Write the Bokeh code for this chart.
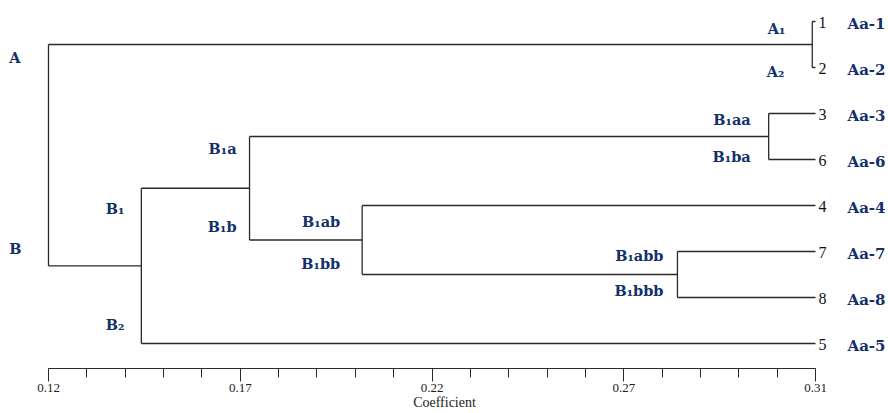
import numpy as np
from bokeh.plotting import figure
from bokeh.models import Range1d, FixedTicker, CustomJSTickFormatter, ColumnDataSource
from bokeh.core.properties import value
from bokeh.embed import file_html
from bokeh.resources import INLINE

# ---------------- data ----------------
LEAF_IDS = ["1", "2", "3", "6", "4", "7", "8", "5"]
LEAF_NAMES = ["Aa-1", "Aa-2", "Aa-3", "Aa-6", "Aa-4", "Aa-7", "Aa-8", "Aa-5"]
LEAF_HEIGHT = 0.31

MERGE_NAME = ["A", "B1a", "n78", "B1b", "B1", "B", "root"]
MERGE_LEFT = ["1", "3", "7", "4", "B1a", "B1", "A"]
MERGE_RIGHT = ["2", "6", "8", "n78", "B1b", "5", "B"]
MERGE_HEIGHT = [0.3092, 0.2984, 0.2758, 0.1977, 0.1698, 0.1430, 0.12]
LABEL_UPPER = ["A\u2081", "B\u2081aa", "B\u2081abb", "B\u2081ab", "B\u2081a", "B\u2081", "A"]
LABEL_LOWER = ["A\u2082", "B\u2081ba", "B\u2081bbb", "B\u2081bb", "B\u2081b", "B\u2082", "B"]

TICK_LABELS = ["0.12", "0.17", "0.22", "0.27", "0.31"]
AXIS_MIN, AXIS_MAX = 0.12, 0.31
AXIS_TITLE = "Coefficient"

# ---------------- styles / layout ----------------
NAVY = "#13306b"
LINE = "#2a2a2a"
SERIF = "'Liberation Serif', 'Times New Roman', serif"
W, H = 888, 413
PX_LEFT, PX_RIGHT = 48, 815          # pixel positions of 0.12 and 0.31
FRAME_H = 368
LEAF_TOP_PX, LEAF_STEP_PX = 21, 46.0
UP_OFF = [(-27, 7), (-18, 6), (-14, 4), (-22, 16), (-13, 12), (-17, 20), (-28, 13)]
LO_OFF = [(-28, 4), (-18, -3), (-14, -7), (-22, -11), (-13, -14), (-17, -19), (-27, -17)]

# ---------------- tree geometry ----------------
pos_x = {}
pos_y = {}
for i, lid in enumerate(LEAF_IDS):
    pos_x[lid] = LEAF_HEIGHT
    pos_y[lid] = i + 1
for name, l, r, h in zip(MERGE_NAME, MERGE_LEFT, MERGE_RIGHT, MERGE_HEIGHT):
    pos_x[name] = h
    pos_y[name] = (pos_y[l] + pos_y[r]) / 2

x0s, y0s, x1s, y1s = [], [], [], []
for name, l, r, h in zip(MERGE_NAME, MERGE_LEFT, MERGE_RIGHT, MERGE_HEIGHT):
    x0s.append(h); y0s.append(pos_y[l]); x1s.append(h); y1s.append(pos_y[r])
    for c in (l, r):
        x0s.append(h); y0s.append(pos_y[c]); x1s.append(pos_x[c]); y1s.append(pos_y[c])

scale = (PX_RIGHT - PX_LEFT) / (AXIS_MAX - AXIS_MIN)
x_start = AXIS_MIN - PX_LEFT / scale
x_end = AXIS_MAX + (W - PX_RIGHT) / scale
y_bottom = 1 + (FRAME_H - LEAF_TOP_PX) / LEAF_STEP_PX
y_top = 1 - LEAF_TOP_PX / LEAF_STEP_PX

p = figure(width=W, height=H, output_backend="svg", toolbar_location=None,
           x_range=Range1d(x_start, x_end), y_range=Range1d(y_bottom, y_top),
           min_border_left=0, min_border_right=0, min_border_top=0,
           min_border_bottom=H - FRAME_H, outline_line_color=None,
           y_axis_location=None)
p.grid.visible = False
p.background_fill_color = "white"
p.border_fill_color = "white"

p.segment(x0=x0s, y0=y0s, x1=x1s, y1=y1s, line_color=LINE, line_width=1.3)

# leaf labels
leaf_src = ColumnDataSource(dict(x=[LEAF_HEIGHT] * len(LEAF_IDS),
                                 y=[pos_y[l] for l in LEAF_IDS],
                                 num=LEAF_IDS, name=LEAF_NAMES))
p.text(x="x", y="y", text="num", source=leaf_src, x_offset=3, y_offset=1,
       text_font=value(SERIF), text_font_size="16px",
       text_color="#111111", text_baseline="middle", text_align="left")
p.text(x="x", y="y", text="name", source=leaf_src, x_offset=32, y_offset=2,
       text_font=value("DejaVu Serif"), text_font_style="bold", text_font_size="15px",
       text_color=NAVY, text_baseline="middle", text_align="left")

# branch labels
lx, ly, lt, lxo, lyo = [], [], [], [], []
for i, (name, l, r, h) in enumerate(zip(MERGE_NAME, MERGE_LEFT, MERGE_RIGHT, MERGE_HEIGHT)):
    for c, lab, off in ((l, LABEL_UPPER[i], UP_OFF[i]), (r, LABEL_LOWER[i], LO_OFF[i])):
        lx.append(h); ly.append(pos_y[c]); lt.append(lab)
        lxo.append(off[0]); lyo.append(off[1])
lab_src = ColumnDataSource(dict(x=lx, y=ly, t=lt, xo=lxo, yo=lyo))
p.text(x="x", y="y", text="t", source=lab_src, x_offset="xo", y_offset="yo",
       text_font=value("DejaVu Serif"), text_font_style="bold", text_font_size="14.5px",
       text_color=NAVY, text_baseline="middle", text_align="right")

# axis
major = list(np.linspace(AXIS_MIN, AXIS_MAX, len(TICK_LABELS)))
minor = list(np.linspace(AXIS_MIN, AXIS_MAX, 21))
ax = p.xaxis[0]
ax.ticker = FixedTicker(ticks=major, minor_ticks=minor)
ax.formatter = CustomJSTickFormatter(args=dict(tk=major, labels=TICK_LABELS), code="""
let best = 0, bd = 1e9;
for (let i = 0; i < tk.length; i++) { const d = Math.abs(tk[i] - tick); if (d < bd) { bd = d; best = i; } }
return labels[best];
""")
ax.bounds = (AXIS_MIN, AXIS_MAX)
ax.axis_line_color = LINE
ax.axis_line_width = 1.2
ax.major_tick_line_color = LINE
ax.minor_tick_line_color = LINE
ax.major_tick_out = 13
ax.major_tick_in = 0
ax.minor_tick_out = 9
ax.minor_tick_in = 0
ax.major_label_standoff = 2
ax.major_label_text_font = SERIF
ax.major_label_text_font_size = "13px"
ax.major_label_text_color = "#222222"
ax.axis_label = AXIS_TITLE
ax.axis_label_standoff = 0
ax.axis_label_text_font = SERIF
ax.axis_label_text_font_size = "14px"
ax.axis_label_text_font_style = "normal"
ax.axis_label_text_color = "#222222"

open("out.html", "w").write(file_html(p, INLINE))
